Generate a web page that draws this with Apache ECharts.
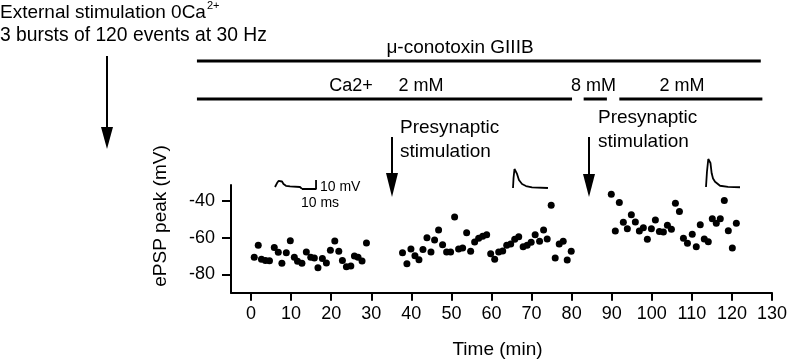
<!DOCTYPE html>
<html><head><meta charset="utf-8">
<script src="https://cdn.jsdelivr.net/npm/echarts@6/dist/echarts.min.js"></script>
<style>html,body{margin:0;padding:0;background:#fff}#c{width:787px;height:363px}</style>
</head><body><div id="c"></div>
<script>
// ---- axis ticks ----
const xTicks = [0,10,20,30,40,50,60,70,80,90,100,110,120,130];
const yTicks = [-80,-60,-40];

// ---- ePSP peak data (time in min, peak in mV) ----
const seg1Time = [0.8,1.8,2.6,3.6,4.6,5.8,6.8,7.7,8.8,9.8,10.8,11.6,12.7,13.8,14.9,15.8,16.7,17.8,18.8,19.8,20.9,21.9,22.8,23.8,24.9,25.8,26.7,27.7,28.8];
const seg1Peak = [-70.7,-64.2,-71.8,-72.4,-72.6,-65.3,-68.0,-74.0,-68.2,-61.7,-70.7,-72.9,-74.0,-67.8,-70.7,-71.1,-76.4,-71.3,-73.8,-66.9,-61.8,-67.4,-72.4,-75.8,-75.5,-70.0,-70.7,-72.7,-62.9];
const seg2Time = [37.8,38.9,39.9,40.9,41.9,42.9,43.9,44.9,45.8,46.8,47.8,48.8,49.8,50.8,51.8,52.8,53.8,54.8,55.8,56.8,57.8,58.8,59.8,60.8,61.8,62.8,63.8,64.8,65.8,66.8,67.9,68.9,69.9,70.9,72.0,73.0,73.9,74.9,75.9,76.9,77.9,78.9,79.9];
const seg2Peak = [-68.2,-74.2,-66.2,-69.8,-72.0,-66.4,-60.0,-67.8,-61.3,-55.8,-63.8,-67.8,-67.8,-48.7,-66.2,-65.6,-57.3,-67.4,-62.4,-60.3,-59.3,-58.4,-68.8,-71.8,-67.8,-67.3,-64.2,-63.5,-60.9,-59.5,-64.9,-64.2,-62.5,-58.4,-62.0,-55.8,-60.7,-42.3,-71.1,-63.5,-62.0,-72.2,-67.4];
const seg3Time = [89.9,90.9,91.9,92.9,93.9,94.9,95.9,96.9,97.9,98.9,99.9,100.9,101.9,102.9,103.9,104.9,105.9,106.9,107.9,108.9,110.1,111.1,112.1,113.1,114.1,115.1,116.1,117.1,118.1,119.1,120.1,121.1];
const seg3Peak = [-36.3,-56.4,-40.9,-51.6,-55.1,-47.5,-51.5,-56.4,-54.6,-60.9,-55.1,-50.4,-56.7,-56.9,-53.3,-55.4,-41.3,-45.8,-60.3,-63.1,-58.2,-64.9,-52.9,-60.7,-62.2,-49.7,-52.2,-49.7,-39.8,-56.2,-65.6,-52.2];

// ---- example traces (ms, mV) ----
const traceATime = [0,1.5,2.6,3.7,5.2,6.3,8.1,11.1,18.5,20];
const traceAmV   = [0,4.4,6.7,7.8,6.1,3.3,1.3,0.6,0,-2.2];
const scaleBarTime = [20,30.4,30.4];
const scaleBarmV   = [-2.2,-2.2,7.8];
const traceBTime = [0,0.4,1.1,1.9,3,4.4,6.7,9.6,14.1,25.9];
const traceBmV   = [0,11.1,21.1,22.2,15.6,8.9,4.4,2.2,0.8,0];
const traceCTime = [0,0.7,1.7,2.4,3.3,4.2,5.2,6.7,10.4,16.3,25.2];
const traceCmV   = [0,16.7,31.1,33,26.7,15.2,9.4,5.9,1.4,0.2,-0.3];

// ---- treatment periods (min) ----
const toxinPeriod = [-13.5, 127.2];
const caPeriods = [[-13.5,80.1],[83,88.8],[91.9,127.6]];

const FONT = '"Liberation Sans", Arial, sans-serif';
const zip = (a,b) => a.map((v,i)=>[v,b[i]]);
const peakData = zip(seg1Time,seg1Peak).concat(zip(seg2Time,seg2Peak), zip(seg3Time,seg3Peak));

const chart = echarts.init(document.getElementById('c'), null, {renderer:'canvas'});
const axisBlack = {color:'#000', width:2};
const insetGrid = (left, top) => ({left:left, top:top, width:43.2, height:36, outerBoundsMode:'none'});
const hiddenX = i => ({type:'value', gridIndex:i, min:0, max:32, show:false});
const hiddenY = i => ({type:'value', gridIndex:i, min:-5, max:35, show:false});
const traceLine = (xi, t, v) => ({type:'line', xAxisIndex:xi, yAxisIndex:xi, data:zip(t,v), showSymbol:false, symbol:'none', clip:false, lineStyle:{color:'#000', width:1.8}, silent:true});

chart.setOption({
  animation:false,
  backgroundColor:'#fff',
  grid:[
    {left:231, top:185, width:541, height:107.7, outerBoundsMode:'none'},
    insetGrid(275,155.5), insetGrid(513,156.5), insetGrid(706,155.5)
  ],
  xAxis:[
    {type:'value', gridIndex:0, min:-5, max:130,
     axisLine:{show:true, onZero:false, lineStyle:axisBlack},
     axisTick:{show:true, customValues:xTicks, length:8, lineStyle:axisBlack},
     axisLabel:{customValues:xTicks, color:'#000', fontSize:18, fontFamily:FONT, margin:12},
     splitLine:{show:false},
     name:'Time (min)', nameLocation:'middle', nameGap:48, nameMoveOverlap:false,
     nameTextStyle:{color:'#000', fontSize:19, fontFamily:FONT, padding:[0,8,0,0]}},
    hiddenX(1), hiddenX(2), hiddenX(3)
  ],
  yAxis:[
    {type:'value', gridIndex:0, min:-90, max:-31.3,
     axisLine:{show:true, onZero:false, lineStyle:axisBlack},
     axisTick:{show:true, customValues:yTicks, length:9, lineStyle:axisBlack},
     axisLabel:{customValues:yTicks, color:'#000', fontSize:18, fontFamily:FONT, margin:16},
     splitLine:{show:false}},
    hiddenY(1), hiddenY(2), hiddenY(3)
  ],
  series:[
    {type:'scatter', xAxisIndex:0, yAxisIndex:0, data:peakData, symbolSize:7, itemStyle:{color:'#000', opacity:1}},
    traceLine(1, traceATime, traceAmV),
    traceLine(1, scaleBarTime, scaleBarmV),
    traceLine(2, traceBTime, traceBmV),
    traceLine(3, traceCTime, traceCmV)
  ]
});

const px = t => chart.convertToPixel({xAxisIndex:0}, t);
const txt = (s, x, y, size, align, rot) => ({type:'text', x:x, y:y, rotation:rot||0, silent:true,
  style:{text:s, fill:'#000', font:size+'px '+FONT, fontSize:size, fontFamily:FONT,
         align:align||'left', textAlign:align||'left', verticalAlign:'middle', textVerticalAlign:'middle'}});
const hline = (x1, x2, y, w) => ({type:'line', silent:true, shape:{x1:x1, y1:y, x2:x2, y2:y}, style:{stroke:'#000', lineWidth:w}});
const arrow = (x, y1, yHeadTop, yTip, halfW) => [
  {type:'line', silent:true, shape:{x1:x, y1:y1, x2:x, y2:yHeadTop+2}, style:{stroke:'#000', lineWidth:2}},
  {type:'polygon', silent:true, shape:{points:[[x-halfW,yHeadTop],[x+halfW,yHeadTop],[x,yTip]]}, style:{fill:'#000'}}
];

const g = [
  txt('External stimulation 0Ca', 0, 13, 19),
  txt('2+', 207, 6, 11),
  txt('3 bursts of 120 events at 30 Hz', 0, 36, 19.3),
  txt('\u03bc-conotoxin GIIIB', 460, 48, 19, 'center'),
  hline(px(toxinPeriod[0]), px(toxinPeriod[1]), 61, 3),
  txt('Ca2+', 351, 86, 18, 'center'),
  txt('2 mM', 421, 86, 18, 'center'),
  txt('8 mM', 593.5, 86, 18, 'center'),
  txt('2 mM', 682, 86, 18, 'center'),
  ...caPeriods.map(p => hline(px(p[0]), px(p[1]), 99, 3)),
  ...arrow(107, 56, 127, 149, 6),
  ...arrow(392, 137, 173, 197, 6),
  ...arrow(589, 137, 174, 197, 6),
  txt('Presynaptic', 400, 128, 19),
  txt('stimulation', 400, 152, 19),
  txt('Presynaptic', 598, 118, 19),
  txt('stimulation', 598, 142, 19),
  txt('10 mV', 320, 187.5, 14),
  txt('10 ms', 320, 203, 14, 'center'),
  txt('ePSP peak (mV)', 161, 216, 19, 'center', Math.PI/2)
];
chart.setOption({graphic:{elements:g}});
</script></body></html>
